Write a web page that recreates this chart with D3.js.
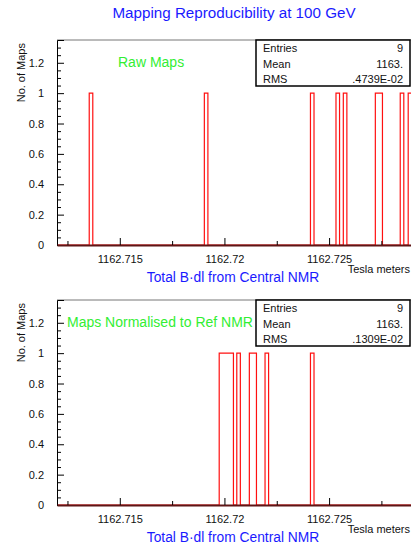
<!DOCTYPE html>
<html>
<head>
<meta charset="utf-8">
<script src="https://cdn.jsdelivr.net/npm/d3@7"></script>
<style>
  body { margin: 0; background: #fff; }
  text { font-family: "Liberation Sans", Arial, Helvetica, sans-serif; }
</style>
</head>
<body>
<div class="canvas"></div>
<script>
// dimensions
const w = 411;
const h = 546;
const margin = { top: 40, left: 57 };
const plotWidth = 355.8;
const plotHeight = 205;
const panelGap = 260; // offset of second pad

// histogram data (bin low edges in Tesla meters, entries per bin)
const binWidth = 0.00017;
const xRange = [1162.712, 1162.729];
const yMax = 1.35;

const rawBinLow = [1162.71354, 1162.71904, 1162.72411, 1162.72533, 1162.72568, 1162.72721, 1162.72738, 1162.72840, 1162.72878];
const rawCounts = [1, 1, 1, 1, 1, 1, 1, 1, 1];

const normBinLow = [1162.71975, 1162.71992, 1162.72009, 1162.72026, 1162.72059, 1162.72119, 1162.72136, 1162.72194, 1162.72411];
const normCounts = [1, 1, 1, 1, 1, 1, 1, 1, 1];

// stats boxes
const statLabels = ["Entries", "Mean", "RMS"];
const rawStats = ["9", "1163.", ".4739E-02"];
const normStats = ["9", "1163.", ".1309E-02"];

// ticks
const xMajorTicks = [1162.715, 1162.72, 1162.725];
const xMinorTicks = [1162.7125, 1162.7175, 1162.7225, 1162.7275];
const yMajorTicks = [0, 0.2, 0.4, 0.6, 0.8, 1, 1.2];
const yMinorTicks = [0.05, 0.1, 0.15, 0.25, 0.3, 0.35, 0.45, 0.5, 0.55, 0.65, 0.7, 0.75, 0.85, 0.9, 0.95, 1.05, 1.1, 1.15, 1.25, 1.3];

const svg = d3.select(".canvas").append("svg").attr("width", w).attr("height", h);
svg.append("rect").attr("width", w).attr("height", h).attr("fill", "#fff");

// title
svg.append("text")
  .attr("x", 234).attr("y", 18)
  .attr("text-anchor", "middle")
  .attr("font-size", 15.2)
  .attr("fill", "#1a1aff")
  .text("Mapping Reproducibility at 100 GeV");

const xScale = d3.scaleLinear().domain(xRange).range([0, plotWidth]);
const yScale = d3.scaleLinear().domain([0, yMax]).range([plotHeight, 0]);

// turn bins into step points, merging adjacent bins
function stepPoints(lows, counts) {
  const pts = [[xRange[0], 0]];
  lows.forEach((lo, i) => {
    pts.push([lo, counts[i]]);
    const next = lows[i + 1];
    if (next === undefined || Math.abs(next - (lo + binWidth)) > binWidth * 0.05) {
      pts.push([lo + binWidth, 0]);
    }
  });
  pts.push([xRange[1], 0]);
  return pts;
}

function drawPanel(offsetY, lows, counts, stats, label, labelX) {
  const g = svg.append("g").attr("transform", `translate(${margin.left}, ${margin.top + offsetY})`);

  // frame
  g.append("line")
    .attr("x1", 0).attr("x2", plotWidth).attr("y1", 0).attr("y2", 0)
    .attr("stroke", "#777").attr("stroke-width", 1);

  // histogram
  const line = d3.line()
    .x((d) => xScale(d[0]))
    .y((d) => yScale(d[1]))
    .curve(d3.curveStepAfter);
  g.append("path")
    .datum(stepPoints(lows, counts))
    .attr("d", line)
    .attr("fill", "none")
    .attr("stroke", "#ff1010")
    .attr("stroke-width", 1.2);

  // y axis
  const yAxis = g.append("g")
    .call(d3.axisLeft(yScale).tickValues(yMajorTicks).tickSize(-7).tickPadding(13).tickFormat(d3.format("~g")));
  g.append("g")
    .call(d3.axisLeft(yScale).tickValues(yMinorTicks).tickSize(-4).tickFormat(""))
    .select(".domain").remove();
  yAxis.selectAll("text").attr("font-size", 11).attr("fill", "#111").attr("font-family", null);

  // x axis
  const xAxis = g.append("g")
    .attr("transform", `translate(0, ${plotHeight})`)
    .call(d3.axisBottom(xScale).tickValues(xMajorTicks).tickSize(-7).tickSizeOuter(0).tickPadding(10).tickFormat(d3.format(".3~f")));
  g.append("g")
    .attr("transform", `translate(0, ${plotHeight})`)
    .call(d3.axisBottom(xScale).tickValues(xMinorTicks).tickSize(-4).tickFormat(""))
    .select(".domain").remove();
  xAxis.select(".domain").attr("stroke", "#5e1616").attr("stroke-width", 2);
  xAxis.selectAll("text").attr("font-size", 11).attr("fill", "#111").attr("font-family", null);

  // axis titles
  g.append("text")
    .attr("transform", "rotate(-90)")
    .attr("x", -3).attr("y", -32)
    .attr("text-anchor", "end")
    .attr("font-size", 11)
    .attr("fill", "#111")
    .text("No. of Maps");
  g.append("text")
    .attr("x", 353).attr("y", plotHeight + 28)
    .attr("text-anchor", "end")
    .attr("font-size", 11)
    .attr("fill", "#111")
    .text("Tesla meters");
  g.append("text")
    .attr("x", 176).attr("y", plotHeight + 37)
    .attr("text-anchor", "middle")
    .attr("font-size", 13.8)
    .attr("fill", "#1a1aff")
    .text("Total B\u00b7dl from Central NMR");

  // label inside the pad
  g.append("text")
    .attr("x", labelX).attr("y", 27)
    .attr("font-size", 14)
    .attr("fill", "#33ee33")
    .text(label);

  // stats box
  const box = g.append("g").attr("transform", "translate(199, 0)");
  box.append("rect")
    .attr("width", 154).attr("height", 46)
    .attr("fill", "#fff").attr("stroke", "#000").attr("stroke-width", 1.5);
  statLabels.forEach((s, i) => {
    box.append("text").attr("x", 7).attr("y", 12 + i * 15.5)
      .attr("font-size", 11).attr("fill", "#111").text(s);
    box.append("text").attr("x", 147).attr("y", 12 + i * 15.5)
      .attr("text-anchor", "end")
      .attr("font-size", 11).attr("fill", "#111").text(stats[i]);
  });
}

drawPanel(0, rawBinLow, rawCounts, rawStats, "Raw Maps", 61);
drawPanel(panelGap, normBinLow, normCounts, normStats, "Maps Normalised to Ref NMR", 10);
</script>
</body>
</html>
